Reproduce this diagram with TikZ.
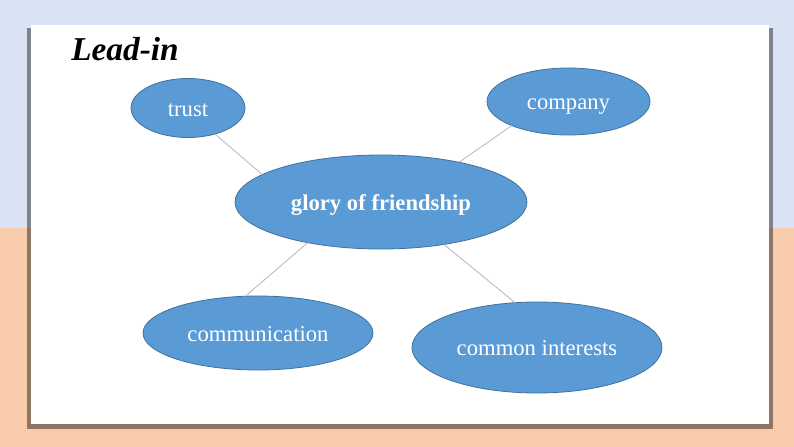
\documentclass[tikz,border=0pt]{standalone}
\usepackage{fontspec}
\setmainfont{Liberation Serif}
\usepackage{xcolor}
\usepackage{tikz}
\usetikzlibrary{shapes.geometric}
\definecolor{SkyBack}{HTML}{DAE3F3}
\definecolor{PeachBack}{HTML}{F8CBAD}
\definecolor{Bubble}{HTML}{5B9BD5}
\definecolor{BubbleEdge}{HTML}{41719C}
\definecolor{LinkGrey}{HTML}{B4B8BC}

\begin{document}
\begin{tikzpicture}[
  x=0.75pt,y=-0.75pt,
  bubble/.style={ellipse,draw=BubbleEdge,fill=Bubble,line width=0.6pt,inner sep=0pt,outer sep=0pt,text=white,
    text height=16.5pt,text depth=4pt,font=\fontsize{17}{20}\selectfont},
  link/.style={draw=LinkGrey,line width=0.6pt}
]
\useasboundingbox (0,0) rectangle (794,447);
% background and card
\fill[SkyBack] (0,0) rectangle (794,228);
\fill[PeachBack] (0,228) rectangle (794,447);
\fill[black,opacity=0.42] (27,28) rectangle (773,429);
\fill[white] (31,25) rectangle (769,424);
\node[anchor=base west,inner sep=0pt,font=\fontsize{25}{30}\selectfont\bfseries\itshape] (title) at (71,60) {Lead-in};
% bubbles
\node[bubble,minimum width=85.5pt,minimum height=44.25pt] (trust) at (188,108) {trust};
\node[bubble,minimum width=122.25pt,minimum height=50.25pt] (company) at (568.5,101.5) {company};
\node[bubble,minimum width=219pt,minimum height=70.5pt,font=\fontsize{17}{20}\selectfont\bfseries] (glory) at (381,202) {glory of friendship};
\node[bubble,minimum width=172.5pt,minimum height=55.5pt] (comm) at (258,333) {communication};
\node[bubble,minimum width=187.5pt,minimum height=68.25pt] (common) at (537,347.5) {common interests};
% connectors
\foreach \a/\b in {trust.-44/glory.167,company.203/glory.27,glory.209/comm.109,glory.-34/common.116}
  \draw[link] (\a) -- (\b);
\end{tikzpicture}
\end{document}
